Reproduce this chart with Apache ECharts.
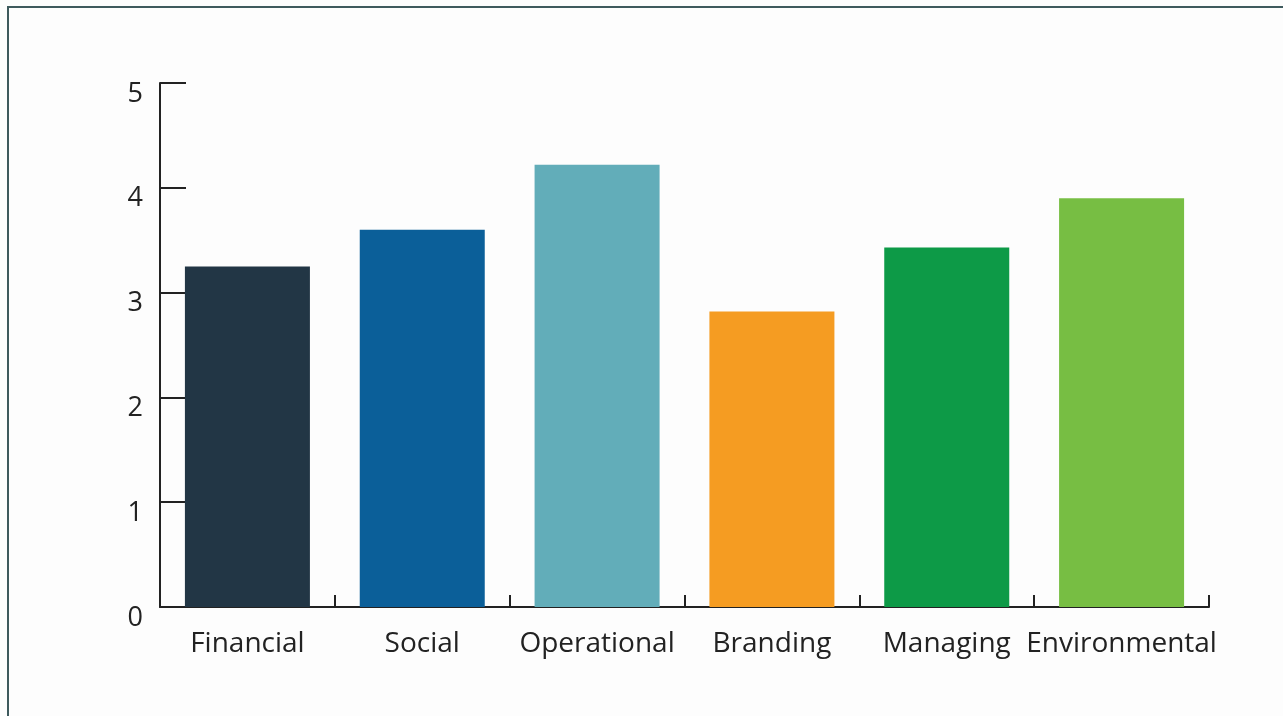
<!DOCTYPE html>
<html>
<head>
<meta charset="utf-8">
<script src="https://cdn.jsdelivr.net/npm/echarts@6/dist/echarts.min.js"></script>
<style>
  html, body { margin: 0; padding: 0; background: #fdfdfd; }
  #frame {
    position: absolute; left: 7px; top: 6px; right: 0; bottom: 0;
    border-top: 2px solid #3e5a5d; border-left: 2px solid #3e5a5d;
    pointer-events: none; z-index: 2;
  }
  #chart { width: 1283px; height: 716px; }
</style>
</head>
<body>
<div id="frame"></div>
<div id="chart"></div>
<script>
// Risk category scores
const categories = ['Financial', 'Social', 'Operational', 'Branding', 'Managing', 'Environmental'];
const scores = [3.25, 3.6, 4.22, 2.82, 3.43, 3.9];
const barColors = ['#223645', '#0b5f99', '#62adb9', '#f59c22', '#0d9a47', '#77be43'];
const yTicks = [0, 1, 2, 3, 4, 5];

const axisColor = '#222222';
const font = '"Open Sans", "Noto Sans", sans-serif';

const chart = echarts.init(document.getElementById('chart'), null, { renderer: 'canvas' });
chart.setOption({
  animation: false,
  backgroundColor: '#fdfdfd',
  grid: { left: 160, right: 74, top: 83, bottom: 109, containLabel: false },
  xAxis: {
    type: 'category',
    data: categories,
    axisLine: { lineStyle: { color: axisColor, width: 2 } },
    axisTick: { show: true, inside: true, length: 12, lineStyle: { color: axisColor, width: 2 } },
    axisLabel: { color: '#222', fontSize: 28, fontFamily: font, margin: 23, interval: 0 },
    splitLine: { show: false }
  },
  yAxis: {
    type: 'value',
    min: yTicks[0],
    max: yTicks[yTicks.length - 1],
    interval: 1,
    axisLine: { show: true, lineStyle: { color: axisColor, width: 2 } },
    axisTick: { show: true, inside: true, length: 26, lineStyle: { color: axisColor, width: 2 } },
    axisLabel: {
      color: '#222', fontSize: 27, fontFamily: font, margin: 17,
      verticalAlign: 'top', lineHeight: 22
    },
    splitLine: { show: false }
  },
  series: [{
    type: 'bar',
    barWidth: '71.5%',
    data: scores.map((v, i) => ({ value: v, itemStyle: { color: barColors[i] } }))
  }]
});
</script>
</body>
</html>
